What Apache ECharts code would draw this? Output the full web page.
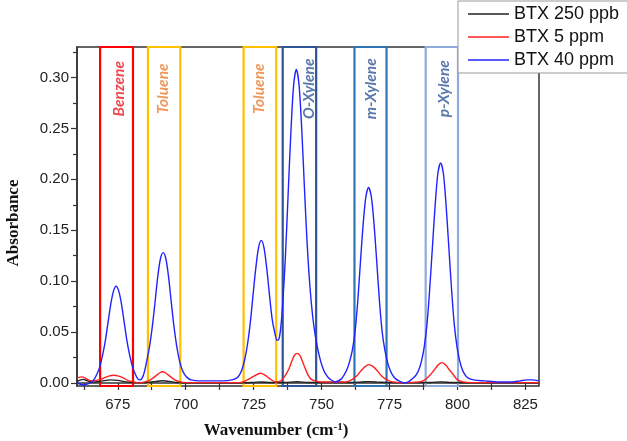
<!DOCTYPE html>
<html>
<head>
<meta charset="utf-8">
<script src="https://cdn.jsdelivr.net/npm/echarts@6/dist/echarts.min.js"></script>
<style>html,body{margin:0;padding:0;background:#fff;}#c{width:627px;height:441px;}</style>
</head>
<body>
<div id="c"></div>
<script>
// ---- data ----
const seriesNames = ['BTX 250 ppb', 'BTX 5 ppm', 'BTX 40 ppm'];

const btx250ppb = [[660,0.0015],[662.3,0.0035],[664,0.002],[666,0.0008],[669,0.0018],[672.5,0.003],[675,0.0025],[678,0.001],[681,0.0003],[686,0.0005],[689,0.0015],[691.5,0.0022],[694,0.0015],[697,0.0005],[700,0.0002],[720,0.0002],[725,0.0006],[728,0.001],[731,0.0005],[736,0.0004],[741,0.0012],[745,0.0004],[760,0.0004],[765,0.001],[767.5,0.0013],[771,0.0008],[775,0.0003],[790,0.0005],[794,0.0011],[798,0.0004],[810,0.0002],[830,0.0002]];

const btx5ppm = [[660,0.005],[662,0.006],[663.5,0.004],[665.5,0.002],[668,0.003],[670,0.005],[672,0.007],[673.5,0.0075],[675,0.007],[677,0.005],[679,0.002],[681,0.001],[683,0.0],[685,0.001],[687,0.003],[689,0.007],[690.5,0.010],[691.5,0.011],[692.5,0.010],[694,0.007],[696,0.003],[698,0.001],[700,0.0003],[710,0.0003],[720,0.0003],[722,0.002],[724,0.005],[726,0.008],[727.5,0.0095],[729,0.008],[731,0.004],[733,0.001],[735,0.002],[736,0.005],[737,0.009],[738,0.014],[739,0.021],[740,0.027],[741,0.029],[742,0.027],[743,0.021],[744,0.014],[745,0.008],[746,0.004],[747.5,0.002],[750,0.001],[755,0.001],[759,0.001],[761,0.003],[763,0.007],[764.5,0.012],[766,0.016],[767.4,0.018],[769,0.016],[770.5,0.012],[772,0.007],[774,0.003],[776,0.001],[780,0.0003],[786,0.001],[788,0.003],[790,0.008],[791.5,0.013],[793,0.018],[794.3,0.020],[795.5,0.018],[797,0.013],[798.5,0.008],[800,0.003],[802,0.001],[805,0.0003],[830,0.0003]];

const btx40ppm = [[660,0.000],[661,-0.001],[662.5,-0.002],[664,-0.001],[665.5,0.001],[666.4,0.004],[667.4,0.009],[668.4,0.016],[669.4,0.027],[670.4,0.041],[671.4,0.059],[672.4,0.077],[673.4,0.090],[674.4,0.095],[675.4,0.090],[676.4,0.077],[677.4,0.059],[678.4,0.041],[679.4,0.027],[680.4,0.016],[681.4,0.009],[682.4,0.004],[683.3,0.003],[684.2,0.006],[684.9,0.012],[685.7,0.022],[686.7,0.036],[687.7,0.055],[688.7,0.079],[689.7,0.104],[690.7,0.122],[691.7,0.128],[692.7,0.122],[693.7,0.104],[694.7,0.079],[695.7,0.055],[696.7,0.036],[697.7,0.022],[698.7,0.013],[699.7,0.008],[700.7,0.005],[702,0.003],[705,0.002],[710,0.002],[714,0.002],[717,0.003],[718.8,0.005],[719.8,0.008],[720.8,0.014],[721.8,0.024],[722.8,0.039],[723.8,0.060],[724.8,0.087],[725.8,0.113],[726.8,0.133],[727.8,0.140],[728.8,0.133],[729.8,0.113],[730.8,0.087],[731.8,0.063],[732.8,0.049],[733.6,0.042],[734.3,0.043],[735,0.055],[735.7,0.078],[736.7,0.125],[737.7,0.186],[738.7,0.246],[739.7,0.292],[740.7,0.308],[741.7,0.293],[742.7,0.249],[743.7,0.191],[744.7,0.136],[745.7,0.095],[746.7,0.066],[747.7,0.046],[748.7,0.032],[749.7,0.021],[750.7,0.013],[751.7,0.008],[753,0.004],[755,0.001],[757.3,0.004],[758.3,0.008],[759.3,0.013],[760.3,0.021],[761.3,0.032],[762.3,0.050],[763.3,0.080],[764.3,0.119],[765.3,0.156],[766.3,0.183],[767.3,0.192],[768.3,0.183],[769.3,0.156],[770.3,0.119],[771.3,0.080],[772.3,0.050],[773.3,0.032],[774.3,0.020],[775.3,0.012],[776.3,0.007],[777.3,0.004],[778.5,0.002],[780.7,0.000],[782.5,0.002],[783.8,0.005],[784.8,0.008],[785.8,0.013],[786.8,0.022],[787.8,0.036],[788.8,0.058],[789.8,0.093],[790.8,0.134],[791.8,0.175],[792.8,0.206],[793.8,0.216],[794.8,0.206],[795.8,0.175],[796.8,0.134],[797.8,0.093],[798.8,0.058],[799.8,0.036],[800.8,0.022],[801.8,0.013],[802.8,0.008],[803.8,0.005],[806,0.003],[810,0.002],[815,0.001],[820,0.001],[823,0.002],[825.5,0.003],[827.5,0.003],[830,0.002]];

// highlighted bands (wavenumber ranges) and their labels
const bandNames = ['Benzene', 'Toluene', 'Toluene', 'O-Xylene', 'm-Xylene', 'p-Xylene'];
const bandFrom  = [668.5, 686.1, 721.3, 735.7, 762.1, 788.3];
const bandTo    = [680.6, 698.0, 733.3, 748.0, 773.9, 800.2];
const bandLabelX = [675.5, 691.7, 727.1, 745.5, 768.0, 794.9];

// tick values
const xMajorTicks = [675, 700, 725, 750, 775, 800, 825];
const xAllTicks = [662.5, 675, 687.5, 700, 712.5, 725, 737.5, 750, 762.5, 775, 787.5, 800, 812.5, 825];
const yMajorTicks = [0, 0.05, 0.10, 0.15, 0.20, 0.25, 0.30];
const yMinorTicks = [0.025, 0.075, 0.125, 0.175, 0.225, 0.275, 0.325];

// ---- styles ----
const lineColors = ['#222222', '#ff2020', '#2222ff'];
const bandBorder = ['#ff0000', '#ffc000', '#ffc000', '#2f5597', '#2e75b6', '#8faadc'];
const bandText   = ['#e81c24', '#ed7d31', '#ed7d31', '#2f5597', '#2f5597', '#2f5597'];
const X_MIN = 660, X_MAX = 830, Y_MIN = -0.003, Y_MAX = 0.33, LABEL_Y = 0.289;

const chart = echarts.init(document.getElementById('c'), null, {renderer: 'canvas'});

const lineSeries = [btx250ppb, btx5ppm, btx40ppm].map((d, i) => ({
  name: seriesNames[i], type: 'line', data: d, symbol: 'none', smooth: 0.3,
  lineStyle: {color: lineColors[i], width: 1.4}, itemStyle: {color: lineColors[i]},
  z: 2 + i, silent: true
}));

const option = {
  animation: false,
  backgroundColor: '#fff',
  grid: {left: 77, right: 88, top: 47, bottom: 55, show: true, borderColor: '#333', borderWidth: 1.5},
  legend: {
    data: seriesNames, orient: 'vertical', left: 458, top: 1,
    icon: 'rect', itemWidth: 41, itemHeight: 1.6, itemGap: 5,
    padding: [4, 80, 4, 10],
    borderColor: '#999', borderWidth: 1, backgroundColor: '#fff',
    textStyle: {fontFamily: 'Liberation Sans', fontSize: 18, color: '#111', lineHeight: 17},
    z: 20
  },
  xAxis: {
    type: 'value', min: X_MIN, max: X_MAX,
    axisLine: {lineStyle: {color: '#333', width: 1.5}},
    axisTick: {show: true, inside: false, length: 7, customValues: xAllTicks, lineStyle: {color: '#333', width: 1.2}},
    axisLabel: {customValues: xMajorTicks, fontFamily: 'Liberation Sans', fontSize: 15, color: '#222', margin: 11},
    splitLine: {show: false}
  },
  yAxis: [{
    type: 'value', min: Y_MIN, max: Y_MAX,
    axisLine: {show: true, lineStyle: {color: '#333', width: 1.5}},
    axisTick: {show: true, length: 6, customValues: yMajorTicks, lineStyle: {color: '#333', width: 1.2}},
    axisLabel: {customValues: yMajorTicks, formatter: v => v.toFixed(2), fontFamily: 'Liberation Sans', fontSize: 15, color: '#222', margin: 8},
    splitLine: {show: false}
  }, {
    type: 'value', min: Y_MIN, max: Y_MAX, position: 'left',
    axisLine: {show: false},
    axisTick: {show: true, length: 4, customValues: yMinorTicks, lineStyle: {color: '#333', width: 1.2}},
    axisLabel: {show: false}, splitLine: {show: false}
  }],
  series: lineSeries.concat([{
    type: 'scatter', name: 'bands', z: 10, silent: true,
    symbolSize: 1, itemStyle: {color: 'rgba(0,0,0,0)'},
    data: bandNames.map((n, i) => ({
      value: [bandLabelX[i], LABEL_Y], name: n,
      label: {color: bandText[i]}
    })),
    label: {
      show: true, position: 'inside', rotate: 90, formatter: p => p.name,
      fontFamily: 'Lato', fontStyle: 'italic', fontWeight: 'bold', fontSize: 15.5
    },
    markArea: {
      silent: true,
      data: bandNames.map((n, i) => [
        {xAxis: bandFrom[i], yAxis: Y_MIN, itemStyle: {color: 'rgba(0,0,0,0)', borderColor: bandBorder[i], borderWidth: 2.2}},
        {xAxis: bandTo[i], yAxis: Y_MAX}
      ])
    }
  }]),
  graphic: [
    {type: 'text', x: 14, y: 223, rotation: Math.PI / 2, z: 30,
      style: {text: 'Absorbance', font: 'bold 17px "Liberation Serif"', fill: '#111', align: 'center', verticalAlign: 'middle'}},
    {type: 'text', x: 276, y: 431, z: 30,
      style: {
        text: 'Wavenumber (cm{s|-1})', fill: '#111', align: 'center', verticalAlign: 'middle',
        font: 'bold 17px "Liberation Serif"',
        rich: {s: {fontFamily: 'Liberation Serif', fontWeight: 'bold', fontSize: 11, verticalAlign: 'top', padding: [0, 0, 8, 0]}}
      }}
  ]
};
chart.setOption(option);
</script>
</body>
</html>
